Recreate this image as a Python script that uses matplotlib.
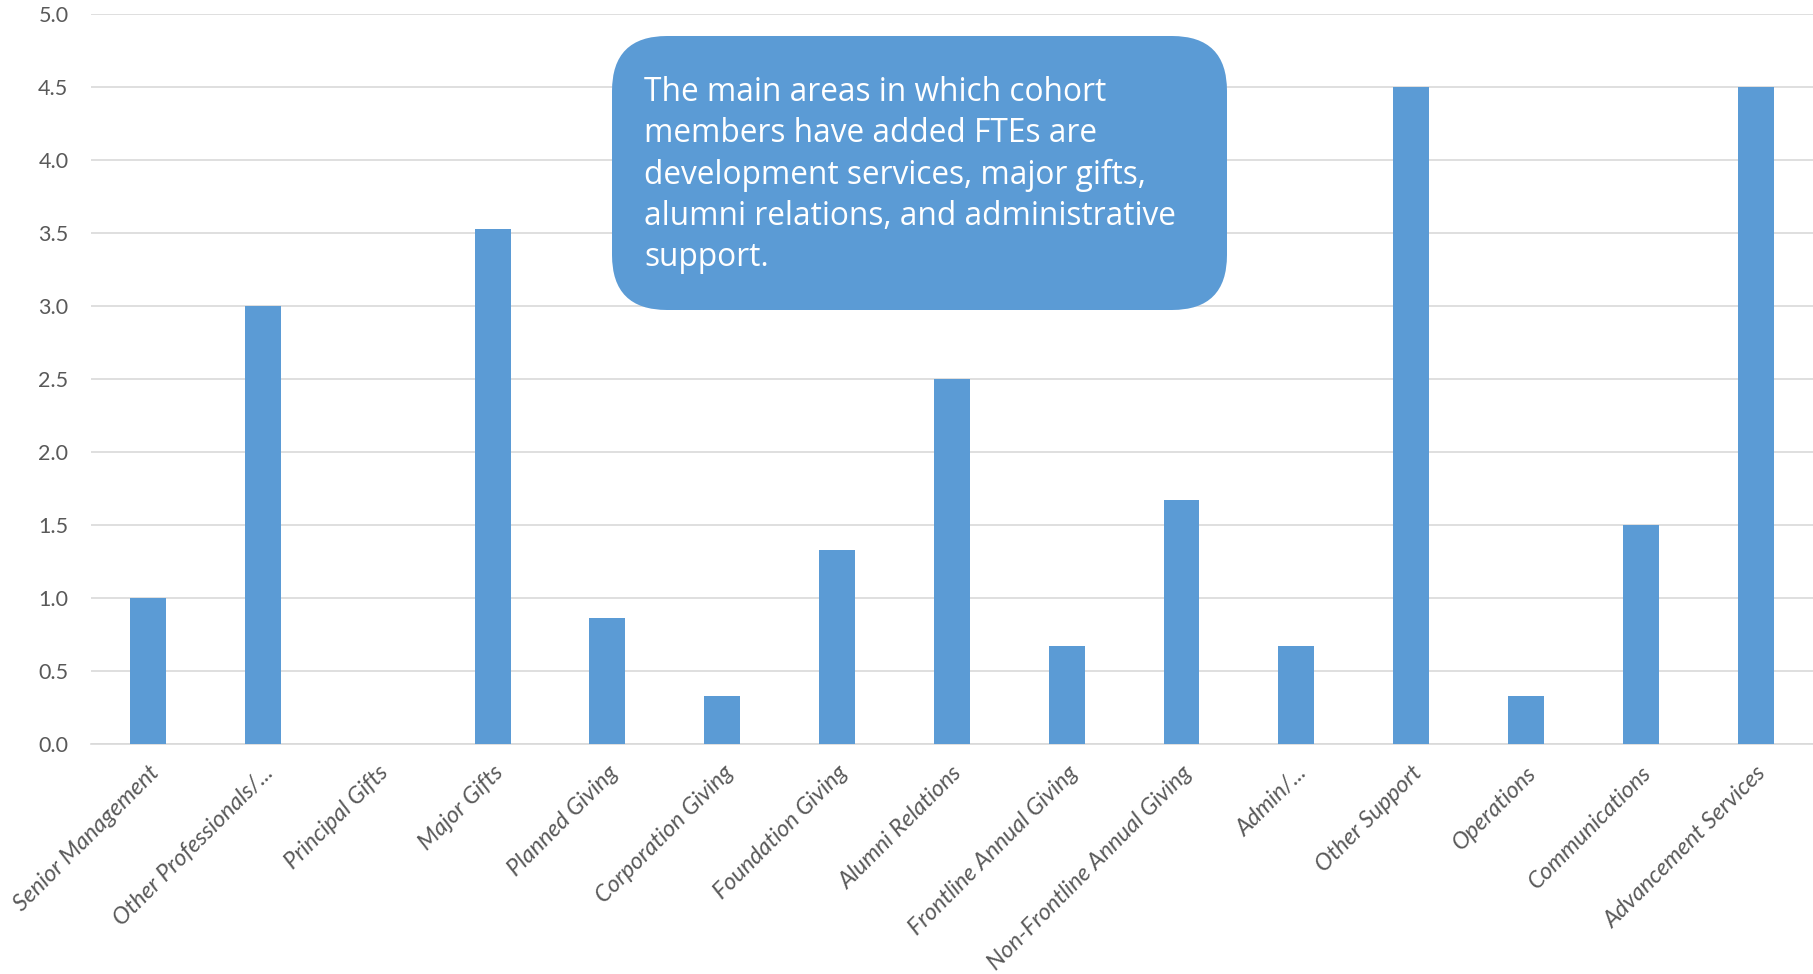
import numpy as np
import matplotlib.pyplot as plt
from matplotlib.patches import FancyBboxPatch

categories = ["Senior Management", "Other Professionals/...", "Principal Gifts", "Major Gifts",
              "Planned Giving", "Corporation Giving", "Foundation Giving", "Alumni Relations",
              "Frontline Annual Giving", "Non-Frontline Annual Giving", "Admin/...",
              "Other Support", "Operations", "Communications", "Advancement Services"]
values = [1.0, 3.0, 0.0, 3.53, 0.86, 0.33, 1.33, 2.5, 0.67, 1.67, 0.67, 4.5, 0.33, 1.5, 4.5]
yticks = [0.0, 0.5, 1.0, 1.5, 2.0, 2.5, 3.0, 3.5, 4.0, 4.5, 5.0]
note = ("The main areas in which cohort\nmembers have added FTEs are\n"
        "development services, major gifts,\nalumni relations, and administrative\nsupport.")

W, H = 1813, 974
fig = plt.figure(figsize=(W / 100, H / 100), dpi=100)
ax = fig.add_axes([90.7 / W, 1 - 744 / H, (W - 90.7) / W, (744 - 14) / H])

x = np.arange(len(categories))
ax.bar(x, values, width=0.313, color="#5b9bd5", zorder=3)

ax.set_xlim(-0.5, len(categories) - 0.5)
ax.set_ylim(0, 5)
ax.set_yticks(yticks)
ax.set_yticklabels([f"{v:.1f}" for v in yticks], fontsize=15.5, color="#595959", family="Lato")
ax.yaxis.grid(True, color="#d9d9d9", linewidth=1.2, zorder=0)
ax.tick_params(axis="y", length=0, pad=16)
ax.tick_params(axis="x", length=0, pad=13)
ax.set_xticks(x)
ax.set_xticklabels(categories, rotation=45, ha="right", va="top", rotation_mode="anchor",
                   fontsize=16.8, color="#595959", family="Lato", style="italic")
for s in ["top", "right", "left"]:
    ax.spines[s].set_visible(False)
ax.spines["bottom"].set_color("#d9d9d9")
ax.spines["bottom"].set_linewidth(1.2)

# callout box
box = FancyBboxPatch((6.12, (H - 310) / 100), 6.15, 2.74,
                     boxstyle="round,pad=0,rounding_size=0.55",
                     transform=fig.dpi_scale_trans, facecolor="#5b9bd5",
                     edgecolor="none", zorder=5)
fig.add_artist(box)
fig.text(6.44, 8.98, note, transform=fig.dpi_scale_trans, color="white",
         fontsize=22.8, family="Open Sans", va="top", ha="left", linespacing=1.33, zorder=6)

fig.savefig("out.png", dpi=100)
